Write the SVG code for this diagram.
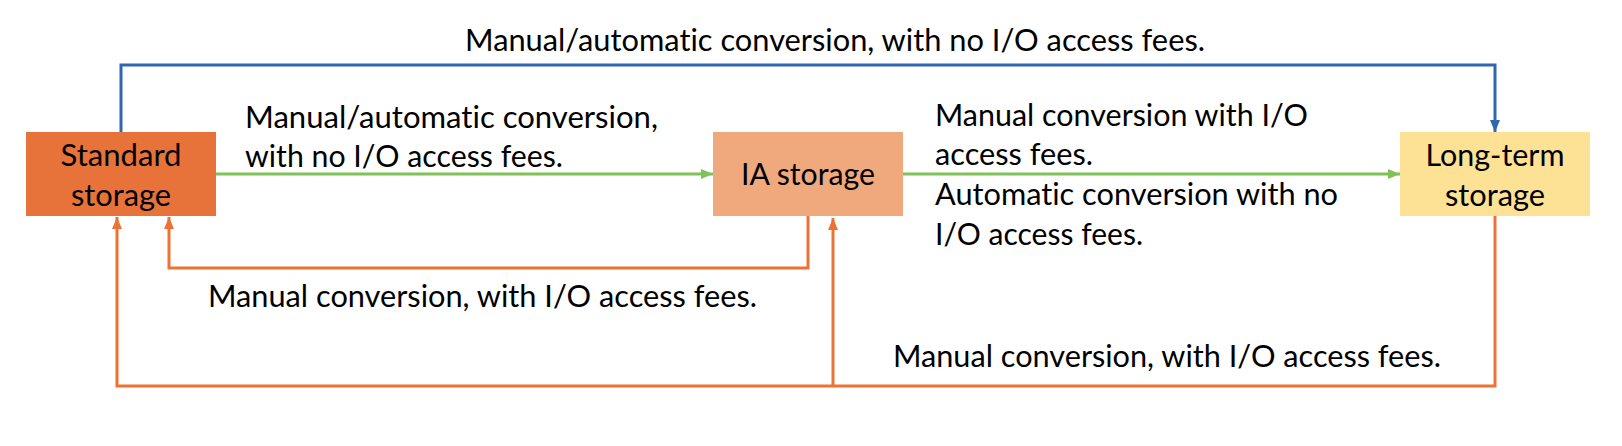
<svg xmlns="http://www.w3.org/2000/svg" width="1622" height="446" viewBox="0 0 1622 446">
<style>
text{font-family:Lato,"Open Sans","Liberation Sans",sans-serif;font-size:31px;fill:#000;font-variant-ligatures:none;font-feature-settings:"liga" 0}
.c{text-anchor:middle}
.ln{fill:none;stroke-width:3}
.blue{stroke:#2E69B0}
.green{stroke:#80C257}
.orange{stroke:#EB7434}
</style>
<defs>
<marker id="ab" viewBox="0 0 12 10" refX="12" refY="5" markerWidth="12" markerHeight="10" markerUnits="userSpaceOnUse" orient="auto"><path d="M0,0 L12,5 L0,10 z" fill="#2E69B0"/></marker>
<marker id="ag" viewBox="0 0 12 10" refX="12" refY="5" markerWidth="12" markerHeight="10" markerUnits="userSpaceOnUse" orient="auto"><path d="M0,0 L12,5 L0,10 z" fill="#80C257"/></marker>
<marker id="ao" viewBox="0 0 12 10" refX="12" refY="5" markerWidth="12" markerHeight="10" markerUnits="userSpaceOnUse" orient="auto"><path d="M0,0 L12,5 L0,10 z" fill="#EB7434"/></marker>
</defs>
<rect width="1622" height="446" fill="#fff"/>
<g id="connectors">
<path class="ln blue" d="M121,132 V65 H1495 V132" marker-end="url(#ab)"/>
<path class="ln green" d="M216,174 H713" marker-end="url(#ag)"/>
<path class="ln green" d="M903,174 H1400" marker-end="url(#ag)"/>
<path class="ln orange" d="M808,216 V268 H169 V217" marker-end="url(#ao)"/>
<path class="ln orange" d="M1495,216 V386 H117 V217" marker-end="url(#ao)"/>
<path class="ln orange" d="M833,386 V218" marker-end="url(#ao)"/>
<text x="465" y="51" textLength="740" lengthAdjust="spacingAndGlyphs">Manual/automatic conversion, with no I/O access fees.</text>
<text x="245" y="128" textLength="413" lengthAdjust="spacingAndGlyphs">Manual/automatic conversion,</text>
<text x="245" y="167" textLength="318" lengthAdjust="spacingAndGlyphs">with no I/O access fees.</text>
<text x="935" y="126" textLength="373" lengthAdjust="spacingAndGlyphs">Manual conversion with I/O</text>
<text x="935" y="165" textLength="158" lengthAdjust="spacingAndGlyphs">access fees.</text>
<text x="935" y="205" textLength="403" lengthAdjust="spacingAndGlyphs">Automatic conversion with no</text>
<text x="935" y="245" textLength="208" lengthAdjust="spacingAndGlyphs">I/O access fees.</text>
<text x="208" y="307" textLength="549" lengthAdjust="spacingAndGlyphs">Manual conversion, with I/O access fees.</text>
<text x="893" y="367" textLength="548" lengthAdjust="spacingAndGlyphs">Manual conversion, with I/O access fees.</text>
</g>
<g id="standard">
<rect x="26" y="132" width="190" height="84" fill="#E8733A"/>
<text class="c" x="121" y="166" textLength="121" lengthAdjust="spacingAndGlyphs">Standard</text>
<text class="c" x="121" y="206" textLength="100" lengthAdjust="spacingAndGlyphs">storage</text>
</g>
<g id="ia">
<rect x="713" y="132" width="190" height="84" fill="#EFA97D"/>
<text class="c" x="808" y="185" textLength="134" lengthAdjust="spacingAndGlyphs">IA storage</text>
</g>
<g id="longterm">
<rect x="1400" y="132" width="190" height="84" fill="#FDE195"/>
<text class="c" x="1495" y="166" textLength="139" lengthAdjust="spacingAndGlyphs">Long-term</text>
<text class="c" x="1495" y="206" textLength="100" lengthAdjust="spacingAndGlyphs">storage</text>
</g>
</svg>
